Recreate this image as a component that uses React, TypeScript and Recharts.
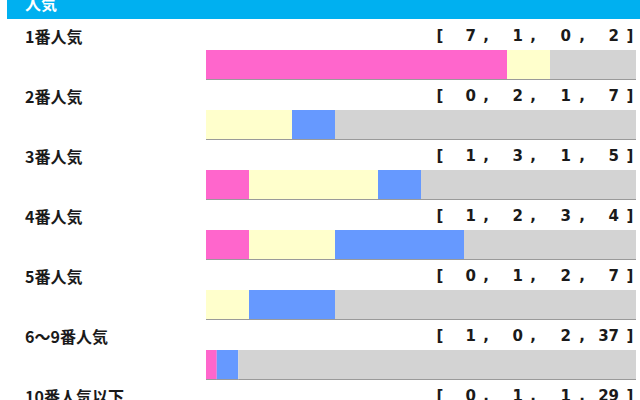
import React from "react";
import { BarChart, Bar, XAxis, YAxis } from "recharts";

const rowLabels = ["1番人気", "2番人気", "3番人気", "4番人気", "5番人気", "6～9番人気", "10番人気以下"];
const firsts = [7, 0, 1, 1, 0, 1, 0];
const seconds = [1, 2, 3, 2, 1, 0, 1];
const thirds = [0, 1, 1, 3, 2, 2, 1];
const others = [2, 7, 5, 4, 7, 37, 29];

const segColors = ["#ff66cc", "#ffffcc", "#6699ff", "#d3d3d3"];
const segKeys = ["first", "second", "third", "other"];

const data = rowLabels.map((name, i) => {
  const total = firsts[i] + seconds[i] + thirds[i] + others[i];
  return {
    name,
    first: firsts[i] / total,
    second: seconds[i] / total,
    third: thirds[i] / total,
    other: others[i] / total,
    counts: [firsts[i], seconds[i], thirds[i], others[i]],
  };
});

// right edges of the count fields and centres of the commas in "[ a, b, c, d]"
const fieldEnds = [476, 523, 571, 619];
const commaXs = [486, 533, 582];

const SegShape = (props: any) => {
  const { x, y, width, height, fill } = props;
  if (!width || width <= 0) return null;
  return (
    <g>
      <rect x={x} y={y} width={width} height={height} fill={fill} />
      <line x1={x} x2={x + width} y1={y + height - 0.5} y2={y + height - 0.5} stroke="#9a9a9a" strokeWidth={1} />
    </g>
  );
};

const RowTick = (props: any) => {
  const { y, payload, index } = props;
  const row = data[index] ?? data.find((d) => d.name === payload.value);
  const ty = y - 29;
  const numStyle = {
    fontFamily: "'DejaVu Sans', sans-serif",
    fontWeight: "bold" as const,
    fontSize: 15,
    fill: "#1a1a1a",
  };
  return (
    <g>
      <text
        x={25}
        y={ty}
        dominantBaseline="central"
        fontFamily="'Noto Sans CJK JP', sans-serif"
        fontWeight="bold"
        fontSize={16}
        fill="#1a1a1a"
      >
        {payload.value}
      </text>
      <text x={440} y={ty} dominantBaseline="central" textAnchor="middle" {...numStyle}>
        [
      </text>
      {row &&
        row.counts.map((c, i) => (
          <text key={i} x={fieldEnds[i]} y={ty} dominantBaseline="central" textAnchor="end" {...numStyle}>
            {c}
          </text>
        ))}
      {commaXs.map((cx, i) => (
        <text key={"c" + i} x={cx} y={ty} dominantBaseline="central" textAnchor="middle" {...numStyle}>
          ,
        </text>
      ))}
      <text x={630} y={ty} dominantBaseline="central" textAnchor="middle" {...numStyle}>
        ]
      </text>
    </g>
  );
};

export default function App() {
  return (
    <div style={{ position: "fixed", left: 0, top: 0, width: 640, height: 400, overflow: "hidden", background: "#fff" }}>
      {/* header band */}
      <div
        style={{
          position: "absolute",
          left: 7,
          top: 0,
          width: 633,
          height: 19,
          background: "#00b0f0",
          zIndex: 1,
        }}
      >
        <span
          style={{
            position: "absolute",
            left: 18,
            top: -7,
            color: "#fff",
            fontFamily: "'Noto Sans CJK JP', sans-serif",
            fontWeight: "bold",
            fontSize: 16,
            lineHeight: "20px",
          }}
        >
          人気
        </span>
      </div>
      <BarChart
        width={640}
        height={455}
        data={data}
        layout="vertical"
        margin={{ top: 35, right: 4, left: 0, bottom: 0 }}
        barSize={30}
      >
        <XAxis type="number" domain={[0, 1]} hide />
        <YAxis
          type="category"
          dataKey="name"
          width={206}
          axisLine={false}
          tickLine={false}
          interval={0}
          tick={<RowTick />}
        />
        {segKeys.map((k, i) => (
          <Bar
            key={k}
            dataKey={k}
            stackId="a"
            fill={segColors[i]}
            shape={<SegShape />}
            isAnimationActive={false}
          />
        ))}
      </BarChart>
    </div>
  );
}
